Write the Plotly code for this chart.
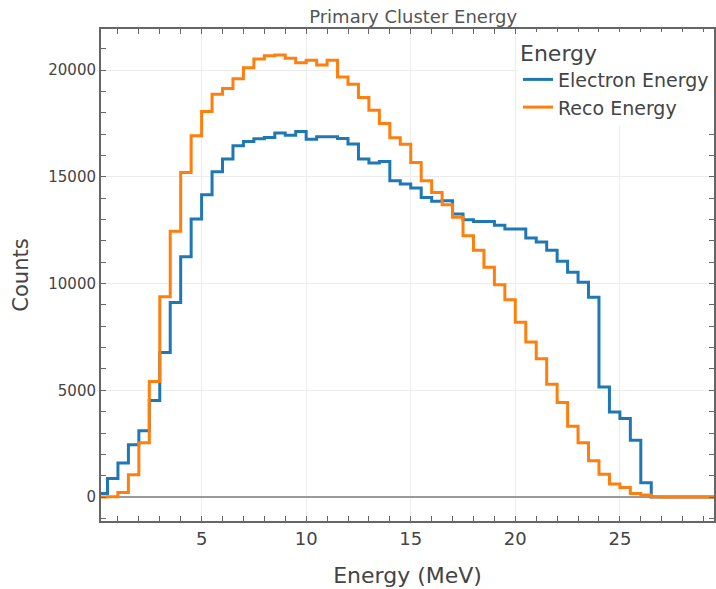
import numpy as np
import plotly.graph_objects as go

# Histogram bins: 0.5 MeV wide, left edges from 0 to 29.5 MeV
bin_width = 0.5
bin_edges = np.arange(0, 30.0 + bin_width / 2, bin_width)

electron_counts = [
    170, 870, 1600, 2450, 3110, 4520, 6770, 9110, 11250, 13020,
    14160, 15230, 15830, 16450, 16650, 16780, 16840, 17050, 16950, 17120,
    16760, 16870, 16870, 16790, 16530, 15830, 15640, 15720, 14810, 14660,
    14470, 14030, 13850, 13880, 13260, 12990, 12910, 12910, 12730, 12555,
    12555, 12134, 11950, 11560, 11040, 10530, 10060, 9360, 5160, 3990,
    3680, 2660, 670, 0, 0, 0, 0, 0, 0, 0,
]

reco_counts = [
    0, 20, 220, 1050, 2540, 5410, 9380, 12445, 15200, 16916,
    18053, 18863, 19128, 19595, 20109, 20520, 20670, 20700, 20545, 20342,
    20452, 20234, 20452, 19673, 19330, 18707, 18115, 17492, 16830, 16526,
    15670, 14813, 14268, 13692, 13100, 12243, 11560, 10763, 9945, 9240,
    8193, 7259, 6480, 5280, 4424, 3318, 2539, 1698, 1075, 607,
    452, 171, 93, 20, 0, 0, 0, 0, 0, 0,
]

series = [
    ("Electron Energy", electron_counts, "#1f77b4"),
    ("Reco Energy", reco_counts, "#ff7f0e"),
]

FONT = "DejaVu Sans"
TEXT = "#444444"

fig = go.Figure()
for name, counts, color in series:
    # step outline: each count held across its bin, closed at the last edge
    xs = list(bin_edges)
    ys = list(counts) + [counts[-1]]
    fig.add_trace(go.Scatter(
        x=xs, y=ys, mode="lines", name=name,
        line=dict(color=color, width=3, shape="hv"),
    ))

axis_common = dict(
    showline=True, linecolor="#666666", linewidth=2, mirror="allticks",
    ticks="inside", ticklen=5, tickcolor="#666666",
    showgrid=True, gridcolor="#ececec", gridwidth=1,
)

fig.update_layout(
    width=716, height=589,
    margin=dict(l=101, r=0, t=29, b=68),
    paper_bgcolor="white", plot_bgcolor="white",
    font=dict(family=FONT, color=TEXT),
    title=dict(
        text="Primary Cluster Energy", font=dict(family=FONT, size=18, color="#555555"),
        xref="container", x=0.577, xanchor="center",
        yref="container", y=0.971, yanchor="middle",
    ),
    xaxis=dict(
        **axis_common, range=[0.19, 29.5], dtick=5, tick0=0,
        tickfont=dict(family=FONT, size=18, color=TEXT),
        minor=dict(dtick=1, ticks="inside", ticklen=5, tickcolor="#666666", showgrid=False),
        zeroline=False,
        title=dict(text="Energy (MeV)", font=dict(family=FONT, size=22, color=TEXT), standoff=20),
    ),
    yaxis=dict(
        **axis_common, range=[-1120, 21920], dtick=5000, tick0=0, tickformat="d",
        tickfont=dict(family=FONT, size=15, color=TEXT),
        minor=dict(dtick=1000, ticks="inside", ticklen=5, tickcolor="#666666", showgrid=False),
        zeroline=True, zerolinecolor="#999999", zerolinewidth=2,
        title=dict(text="Counts", font=dict(family=FONT, size=21, color=TEXT), standoff=14),
    ),
    legend=dict(
        title=dict(text="Energy", font=dict(family=FONT, size=22, color=TEXT)),
        font=dict(family=FONT, size=19, color=TEXT),
        x=1.0, xanchor="right", y=0.994, yanchor="top",
        bgcolor="white", borderwidth=0,
    ),
)

fig.write_html("out.html")
